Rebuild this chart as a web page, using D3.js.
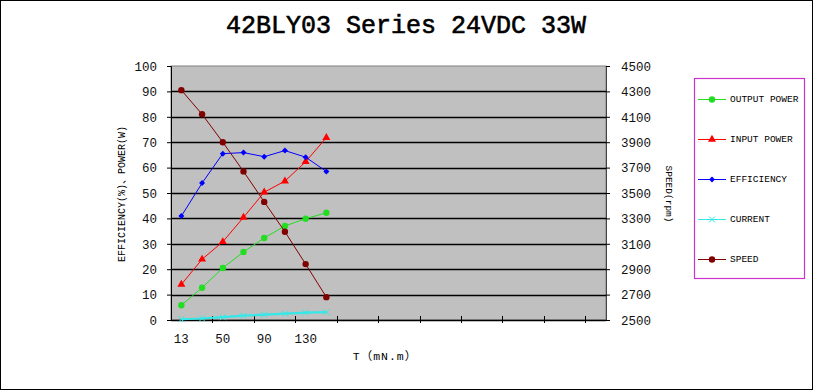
<!DOCTYPE html>
<html>
<head>
<meta charset="utf-8">
<script src="https://cdn.jsdelivr.net/npm/d3@7/dist/d3.min.js"></script>
<style>
  html, body { margin: 0; padding: 0; background: #fff; }
  svg { display: block; }
  text { font-family: "Liberation Mono", "DejaVu Sans Mono", "Noto Sans CJK SC", monospace; fill: #000; }
</style>
</head>
<body>
<svg id="chart" width="813" height="390"></svg>
<script>
// chart values
var categoryCount = 21;               // category slots on the x axis
var tickLabels = ["13", "50", "90", "130"];  // shown on every 2nd slot
var outputPower = [5.8, 12.7, 20.5, 26.8, 32.3, 37.0, 39.9, 42.2];
var inputPower  = [14.0, 23.9, 30.8, 40.4, 50.3, 54.7, 62.3, 71.8];
var efficiency  = [40.9, 53.9, 65.5, 65.9, 64.3, 66.7, 64.1, 58.5];
var current     = [0.3, 0.6, 1.1, 1.7, 2.1, 2.5, 2.9, 3.1];
var speed       = [4310, 4120, 3900, 3670, 3430, 3195, 2940, 2680];
var leftTicks  = [0, 10, 20, 30, 40, 50, 60, 70, 80, 90, 100];
var rightTicks = [2500, 2700, 2900, 3100, 3300, 3500, 3700, 3900, 4100, 4300, 4500];

var svg = d3.select("svg#chart");
var W = 813, H = 390;
var plot = {left: 171, right: 606, top: 66, bottom: 320};

// outer frame
svg.append("rect").attr("x", 0.5).attr("y", 0.5).attr("width", W - 1).attr("height", H - 1)
  .attr("fill", "#fff").attr("stroke", "#000");

var x = d3.scaleBand().domain(d3.range(categoryCount)).range([plot.left, plot.right]).padding(0);
var yL = d3.scaleLinear().domain([0, 100]).range([plot.bottom, plot.top]);
var yR = d3.scaleLinear().domain([2500, 4500]).range([plot.bottom, plot.top]);

// plot area
svg.append("rect").attr("x", plot.left).attr("y", plot.top)
  .attr("width", plot.right - plot.left).attr("height", plot.bottom - plot.top)
  .attr("fill", "#c0c0c0").attr("stroke", "#808080");

// gridlines
svg.append("g").selectAll("line").data(leftTicks.slice(1, -1)).enter().append("line")
  .attr("x1", plot.left).attr("x2", plot.right)
  .attr("y1", function(d) { return Math.round(yL(d)) + 0.5; })
  .attr("y2", function(d) { return Math.round(yL(d)) + 0.5; })
  .attr("stroke", "#000").attr("stroke-width", 1.3);

// left axis
var leftAxis = svg.append("g").attr("transform", "translate(" + plot.left + ",0)")
  .call(d3.axisLeft(yL).tickValues(leftTicks).tickSize(4).tickPadding(10));
leftAxis.select(".domain").attr("stroke", "#000");
leftAxis.selectAll("text").style("font-size", "12.5px").attr("dy", "0.35em").style("fill", "#111");

// right axis
var rightAxis = svg.append("g").attr("transform", "translate(" + plot.right + ",0)")
  .call(d3.axisRight(yR).tickValues(rightTicks).tickFormat(d3.format("d")).tickSize(4).tickPadding(11));
rightAxis.select(".domain").attr("stroke", "#444");
rightAxis.selectAll("text").style("font-size", "12.5px").attr("dy", "0.35em").style("fill", "#111");

// bottom axis
var boundaries = d3.range(2, categoryCount, 2);
svg.append("line").attr("x1", plot.left).attr("x2", plot.right)
  .attr("y1", plot.bottom + 0.5).attr("y2", plot.bottom + 0.5).attr("stroke", "#000").attr("stroke-width", 1.5);
svg.append("g").selectAll("line").data(boundaries).enter().append("line")
  .attr("x1", function(d) { return Math.round(x(d)) + 0.5; })
  .attr("x2", function(d) { return Math.round(x(d)) + 0.5; })
  .attr("y1", plot.bottom - 4).attr("y2", plot.bottom + 3)
  .attr("stroke", "#000");
svg.append("g").selectAll("text").data(tickLabels).enter().append("text")
  .attr("x", function(d, i) { return x(i * 2) + x.bandwidth() / 2; })
  .attr("y", 343)
  .attr("text-anchor", "middle")
  .style("font-size", "12.5px").style("fill", "#111")
  .text(function(d) { return d; });

// titles
svg.append("text").attr("x", 406).attr("y", 33).attr("text-anchor", "middle")
  .style("font-size", "25px").style("stroke", "#000").style("stroke-width", 0.6)
  .text("42BLY03 Series 24VDC 33W");
svg.append("text").attr("x", 385).attr("y", 360).attr("text-anchor", "middle")
  .style("font-size", "11.5px").style("letter-spacing", "1px")
  .text("T（mN.m）");
svg.append("text").attr("transform", "translate(125,194) rotate(-90)")
  .attr("text-anchor", "middle").style("font-size", "10px")
  .text("EFFICIENCY(%)、POWER(W)");
svg.append("text").attr("transform", "translate(666,194) rotate(90)")
  .attr("text-anchor", "middle").style("font-size", "9.5px")
  .text("SPEED(rpm)");

// series
var cx = function(d, i) { return x(i) + x.bandwidth() / 2; };
var series = [
  {name: "OUTPUT POWER", values: outputPower, color: "#22dd22", marker: "circle", scale: yL, width: 1},
  {name: "INPUT POWER", values: inputPower, color: "#ff0000", marker: "triangle", scale: yL, width: 1},
  {name: "EFFICIENCY", values: efficiency, color: "#0000ff", marker: "diamond", scale: yL, width: 1},
  {name: "CURRENT", values: current, color: "#33e8e8", marker: "cross", scale: yL, width: 2.2},
  {name: "SPEED", values: speed, color: "#800000", marker: "circle", scale: yR, width: 1}
];

function drawMarker(g, type, color) {
  if (type === "circle") {
    g.append("circle").attr("r", 3.2).attr("fill", color);
  } else if (type === "triangle") {
    g.append("path").attr("d", d3.symbol().type(d3.symbolTriangle).size(28)()).attr("fill", color);
  } else if (type === "diamond") {
    g.append("path").attr("d", "M0,-3L3,0L0,3L-3,0Z").attr("fill", color);
  } else if (type === "cross") {
    g.append("path").attr("d", "M-3,-3L3,3M-3,3L3,-3").attr("stroke", color).attr("stroke-width", 1);
  }
}

series.forEach(function(s) {
  var line = d3.line().x(cx).y(function(d) { return s.scale(d); });
  svg.append("path").datum(s.values).attr("d", line)
    .attr("fill", "none").attr("stroke", s.color).attr("stroke-width", s.width);
  s.values.forEach(function(v, i) {
    var g = svg.append("g").attr("transform", "translate(" + cx(v, i) + "," + s.scale(v) + ")");
    drawMarker(g, s.marker, s.color);
  });
});

// legend
svg.append("rect").attr("x", 694.5).attr("y", 78.5).attr("width", 110).attr("height", 200)
  .attr("fill", "#fff").attr("stroke", "#cc33cc").attr("stroke-width", 1.2);
var legendY = [99, 139, 179, 219, 259];
var legend = svg.append("g").selectAll("g").data(series).enter().append("g")
  .attr("transform", function(d, i) { return "translate(0," + legendY[i] + ")"; });
legend.append("line").attr("x1", 698).attr("x2", 726).attr("y1", 0.5).attr("y2", 0.5)
  .attr("stroke", function(d) { return d.color; });
legend.each(function(d) {
  var g = d3.select(this).append("g").attr("transform", "translate(712,0.5)");
  drawMarker(g, d.marker, d.color);
});
legend.append("text").attr("x", 730).attr("y", 0).attr("dy", "0.35em")
  .style("font-size", "9.5px")
  .text(function(d) { return d.name; });
</script>
</body>
</html>
